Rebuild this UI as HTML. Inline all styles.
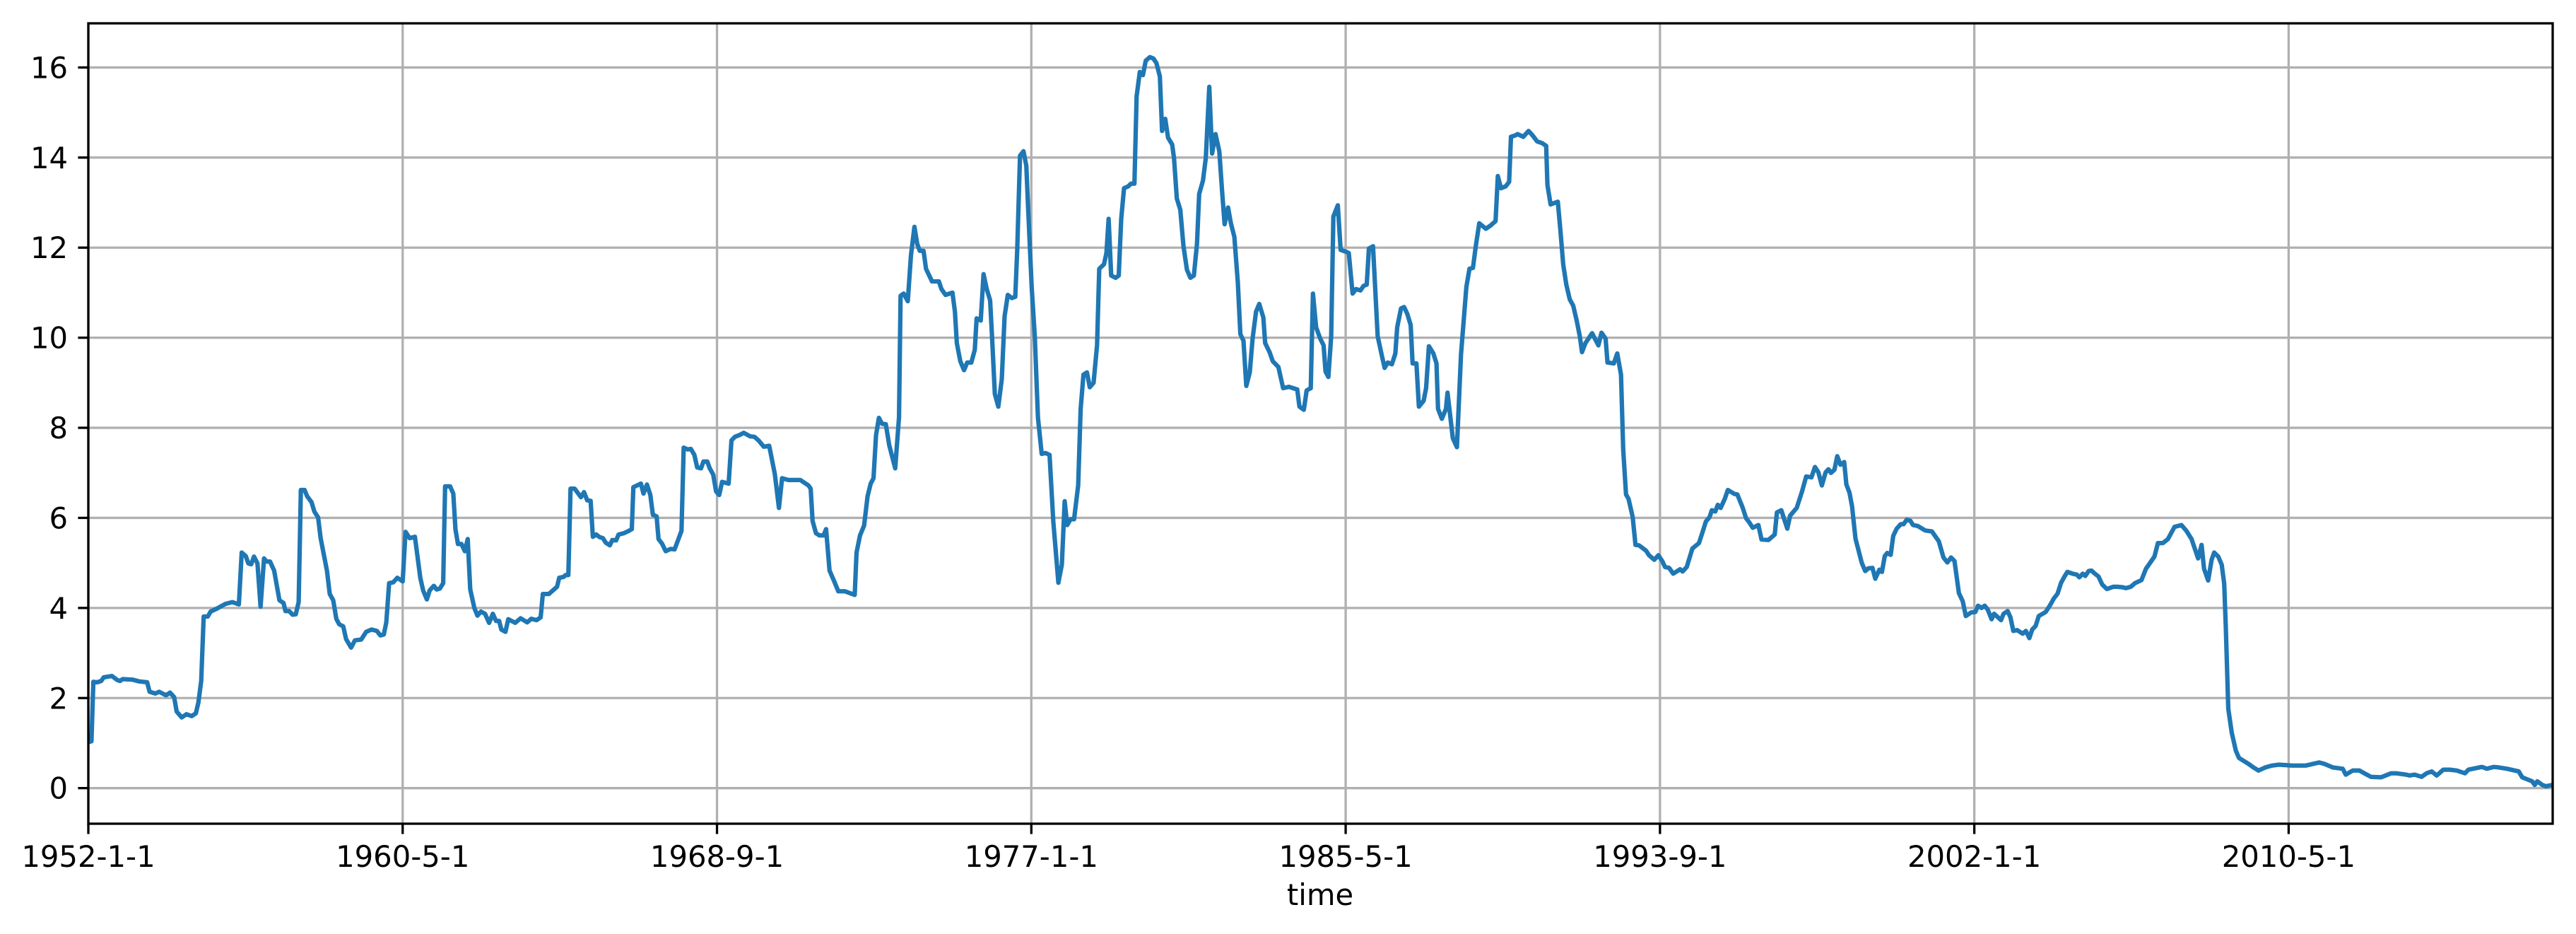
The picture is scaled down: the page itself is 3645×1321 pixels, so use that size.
<!DOCTYPE html>
<html><head><meta charset="utf-8"><style>
html,body{margin:0;padding:0;background:#fff;}
svg{display:block;font-family:"DejaVu Sans","Liberation Sans",sans-serif;}
</style></head><body>
<svg id="chart" width="3645" height="1321" viewBox="0 0 3645 1321" xmlns="http://www.w3.org/2000/svg">
<rect x="0" y="0" width="3645" height="1321" fill="#fff"/>
<g id="grid"></g>
<g id="series"></g>
<g id="axes"></g>
<text x="1868" y="1280" font-size="41.7" text-anchor="middle" fill="#000">time</text>
</svg>
<script>
const months = [0,1,1.6,2.8,4.1,4.9,7.5,9.2,10.1,10.9,14,16.1,18.7,19.5,21.3,22.5,24.7,26,27.3,28.1,29.7,31.2,32.9,34.2,35,35.9,36.7,38,38.9,41,43.6,45.8,47.9,48.8,50.1,50.9,51.8,52.7,53.8,54.8,55.9,56.7,57.8,59.1,60.8,62.1,62.7,63.9,65,66,66.9,67.6,68.8,69.6,71,71.9,73.1,73.9,75.9,76.8,77.9,78.9,79.8,81.1,82,83.6,84.8,86.8,88.4,90.1,91.8,92.9,94,94.8,95.7,97,98.3,100,100.9,102.2,103.9,105.6,106.5,107.7,108.6,109.9,110.8,111.8,112.9,113.5,115.1,116.1,116.8,117.6,118.7,119.8,120.7,121.5,122.8,123.8,124.9,126.2,127.5,128.7,129.7,130.7,131.4,132.7,133.6,135.8,137.5,139.6,140.9,142.6,143.9,144.6,146.5,149.1,149.8,151.2,151.8,152.7,153.4,154.7,156.7,157.7,158.7,159.8,160.5,161.6,162.7,163.7,164.6,165.9,166.7,167.9,168.7,170.4,171.9,172.9,173.4,175.8,176.6,177.7,178.8,179.6,180.8,181.4,182.5,183.7,185.2,186.5,188.7,189.4,190.6,191.7,192.8,193.7,194.9,195.7,196.9,197.7,198.8,199.7,200.7,201.6,203.7,204.6,205.7,207.2,208.5,210.6,211.9,213.2,214.9,216.6,218.4,219.7,220.7,222.7,226.5,229.1,229.8,230.4,231.5,232.6,233.9,234.7,235.8,237.3,238.6,240.7,243.8,244.4,245.5,246.8,247.9,248.9,249.8,250.6,251.5,252.5,253.7,254.8,256.7,257.9,258.4,259.4,260.7,261.7,262.8,263.7,264.5,265.7,266.5,268.4,270.6,271.4,272.7,274.9,275.7,276.3,277.4,278.6,279.6,280.9,282,282.6,283.9,284.8,285.8,286.9,287.5,288.4,289.5,290.6,291.5,292.5,293.8,294.9,295.5,296.4,297.5,298.4,299,300.1,301.1,302.1,303.3,304.5,305.8,307,308.6,309.7,310.6,311.4,312.5,313.6,314.9,315.7,316.6,317.7,318.6,319.8,320.9,321.6,323.1,323.9,324.6,325.4,326.8,327.8,328.6,329.5,330.8,331.7,332.8,333.5,334.5,335.5,336.4,337.7,338.8,339.8,340.9,341.6,342.6,343.5,344.8,345.4,346.3,347.4,348.4,349.5,350.6,351.7,352.7,353.4,354.6,355.5,356.6,357.5,358.6,359.8,360.7,361.5,362.6,363.5,364.6,365.7,366.5,367.5,368.4,369.5,370.4,371.5,372.5,373.8,374.4,375.8,376.8,378.6,380.1,382,384.6,385.3,386.7,387.6,388.9,389.6,390.6,391.9,393,393.6,394.5,395.4,396.1,397.5,398.4,400.1,401,402.2,403.3,404.7,405.7,406.7,407.4,408.7,410.2,411.5,412.4,413.4,414.7,415.8,416.4,417.6,418.6,419.6,420.7,421.3,422.5,423.3,424.8,425.6,426.5,427.9,428.9,429.4,430.6,431.9,432.4,434.1,435.4,436.7,438.4,439.4,440.5,441.4,442.5,444.6,446.1,447.7,448.4,449.4,450.9,452,452.6,453.9,454.7,456.5,458.2,459.5,460.9,462.5,463.8,464.2,465.2,467.5,468.3,469.2,470.2,471.3,472.4,473.5,474.5,475.2,476.3,478.4,480.4,481.4,482.7,483.3,485.3,486.4,487.6,488.3,489.2,490,491.3,492.2,493.3,495.6,496.5,498.2,499.5,500.8,501.6,502.9,504.2,506.4,507.2,508.5,510.3,512.4,513.7,514.6,515.8,516.5,517.6,518.4,519.3,520.6,521.6,523.7,524.6,526.3,527.4,528.4,529.5,531.3,532.3,534.5,536.5,537.2,538.6,540.5,541.4,543.5,545.2,546.5,548.2,549.3,550.4,551.5,552.7,553.6,554.4,555.5,556.4,557.4,558.6,559.3,560.3,561.1,562.2,564.2,565.3,566.3,567.6,568.5,569.8,570.6,571.5,572.3,573.4,574.2,575.3,576.6,577.5,578.5,579.6,580.5,582,584.4,586.5,588.7,590.2,591.4,592.6,593.7,595.1,596.3,597.3,599,600.3,601.2,602.3,603.3,604.3,605.5,606.3,608.5,609.3,610.6,611.5,612.4,613.6,615.4,616.4,617.5,618.4,619.5,620.5,622.7,624,625.3,626.5,627.6,628.7,629.6,631.3,632.6,633.4,634.5,635.3,636.4,637.3,638.2,639.5,640.7,642.2,644.2,645.5,647.2,648.2,649.8,651.1,653.2,654.6,657.3,658.4,660,661.6,663.7,665.9,667.5,669.1,671.2,672.3,673.1,674.4,675.5,676.3,677.6,678.7,679.5,680,680.8,681.9,683.2,684.2,687.2,688.8,690.4,692.6,694.7,696.9,701.1,705.4,709.7,711.3,714,717.2,718.2,720.4,722.5,724.1,726.2,729.4,732.6,734.2,737.4,738.5,740.1,742.3,743.9,745.5,747.1,749.2,751.3,753.5,756.1,757.2,761.5,763.1,765.2,766.8,769.5,773.2,774.3,777.5,778.3,779.1,780.7,781.8,783.9];
const values = [1.02,1.04,2.36,2.35,2.38,2.46,2.49,2.4,2.38,2.42,2.41,2.37,2.35,2.14,2.1,2.14,2.06,2.12,2.02,1.7,1.57,1.64,1.6,1.66,1.9,2.38,3.81,3.81,3.92,3.99,4.09,4.13,4.08,5.23,5.15,4.99,4.97,5.14,4.99,4.03,5.1,5.03,5.03,4.83,4.17,4.11,3.93,3.93,3.85,3.86,4.13,6.62,6.62,6.48,6.35,6.14,6.01,5.55,4.83,4.31,4.17,3.76,3.64,3.59,3.31,3.12,3.28,3.3,3.47,3.52,3.49,3.39,3.41,3.68,4.55,4.57,4.67,4.59,5.69,5.55,5.58,4.67,4.39,4.19,4.39,4.49,4.41,4.43,4.55,6.7,6.7,6.54,5.74,5.42,5.42,5.26,5.53,4.41,4.0,3.83,3.92,3.87,3.67,3.87,3.71,3.71,3.52,3.47,3.75,3.67,3.77,3.68,3.76,3.73,3.79,4.31,4.31,4.47,4.67,4.69,4.73,4.73,6.65,6.65,6.46,6.57,6.39,6.38,5.58,5.63,5.57,5.55,5.45,5.39,5.51,5.5,5.63,5.66,5.71,5.75,6.68,6.76,6.54,6.74,6.51,6.07,6.03,5.53,5.43,5.26,5.31,5.3,5.71,7.56,7.52,7.53,7.4,7.12,7.1,7.25,7.25,7.1,6.96,6.59,6.51,6.8,6.76,7.72,7.8,7.84,7.89,7.81,7.8,7.72,7.58,7.6,6.97,6.22,6.88,6.84,6.84,6.72,6.65,5.93,5.66,5.61,5.61,5.75,4.83,4.59,4.37,4.37,4.29,5.23,5.61,5.83,6.48,6.76,6.88,7.84,8.22,8.09,8.08,7.61,7.1,8.24,10.93,10.98,10.81,11.83,12.46,12.08,11.93,11.93,11.53,11.25,11.25,11.08,10.95,11.0,10.58,9.88,9.48,9.28,9.45,9.45,9.73,10.43,10.38,11.41,11.08,10.83,10.03,8.75,8.47,9.08,10.48,10.95,10.88,10.91,11.93,14.04,14.14,13.82,12.84,11.13,10.03,8.22,7.42,7.44,7.4,5.92,4.56,4.96,6.37,5.84,5.97,5.97,6.72,8.42,9.18,9.23,8.9,9.0,9.83,11.53,11.63,11.88,12.64,11.38,11.33,11.38,12.64,13.32,13.36,13.42,13.42,15.36,15.9,15.83,16.15,16.23,16.2,16.1,15.8,14.59,14.86,14.44,14.29,13.99,13.09,12.84,12.03,11.51,11.33,11.38,12.08,13.19,13.49,13.99,15.57,14.09,14.52,14.14,13.24,12.52,12.89,12.54,12.24,11.23,10.08,9.93,8.93,9.23,9.98,10.58,10.75,10.45,9.88,9.68,9.48,9.35,8.88,8.91,8.85,8.47,8.4,8.83,8.88,10.98,10.23,9.98,9.83,9.25,9.13,10.03,12.69,12.94,11.95,11.91,11.88,10.98,11.08,11.05,11.15,11.18,11.98,12.03,10.03,9.61,9.33,9.45,9.41,9.65,10.23,10.65,10.68,10.53,10.28,9.43,9.43,8.47,8.6,8.88,9.81,9.65,9.43,8.42,8.2,8.42,8.78,7.77,7.57,9.63,11.13,11.53,11.55,12.03,12.54,12.42,12.49,12.59,13.59,13.32,13.36,13.46,14.46,14.49,14.52,14.46,14.59,14.49,14.36,14.32,14.26,13.39,12.96,13.02,12.39,11.63,11.18,10.85,10.71,10.38,10.03,9.68,9.88,10.1,9.83,10.11,9.98,9.45,9.43,9.65,9.18,7.52,6.52,6.42,6.02,5.4,5.39,5.27,5.17,5.07,5.17,5.03,4.91,4.89,4.76,4.86,4.81,4.91,5.32,5.44,5.72,5.92,6.02,6.17,6.14,6.29,6.22,6.42,6.62,6.53,6.52,6.23,5.99,5.9,5.78,5.84,5.52,5.51,5.63,6.12,6.17,5.76,6.05,6.22,6.59,6.92,6.9,7.13,7.01,6.72,7.01,7.08,7.0,7.07,7.37,7.18,7.24,6.74,6.56,6.26,5.54,5.0,4.82,4.88,4.89,4.65,4.85,4.8,5.15,5.22,5.18,5.6,5.76,5.86,5.86,5.96,5.94,5.84,5.82,5.72,5.7,5.48,5.12,5.01,5.12,5.04,4.33,4.15,3.82,3.9,3.91,4.05,4.0,4.05,3.96,3.75,3.87,3.73,3.87,3.93,3.79,3.49,3.51,3.43,3.49,3.33,3.52,3.6,3.82,3.91,4.05,4.21,4.32,4.56,4.7,4.8,4.76,4.74,4.68,4.76,4.71,4.82,4.83,4.77,4.7,4.52,4.42,4.47,4.47,4.46,4.44,4.47,4.55,4.62,4.87,5.14,5.44,5.44,5.53,5.8,5.84,5.71,5.53,5.1,5.4,4.87,4.61,5.07,5.23,5.14,4.96,4.54,3.61,1.76,1.23,0.83,0.67,0.54,0.46,0.39,0.46,0.5,0.52,0.5,0.5,0.57,0.54,0.46,0.43,0.3,0.39,0.39,0.33,0.25,0.24,0.33,0.33,0.3,0.28,0.3,0.25,0.33,0.37,0.28,0.41,0.41,0.39,0.33,0.41,0.47,0.43,0.47,0.46,0.43,0.37,0.24,0.15,0.07,0.15,0.07,0.04,0.07];
const xTickMonths = [0,100,200,300,400,500,600,700];
const xTickLabels = ["1952-1-1","1960-5-1","1968-9-1","1977-1-1","1985-5-1","1993-9-1","2002-1-1","2010-5-1"];
const yTicks = [0,2,4,6,8,10,12,14,16];

const NS = "http://www.w3.org/2000/svg";
const L = 125, R = 3612, T = 33, B = 1165;
const xMin = 0, xMax = 784, yMin = -0.79, yMax = 16.98;
function xs(m){ return L + (m - xMin) / (xMax - xMin) * (R - L); }
function ys(v){ return B - (v - yMin) / (yMax - yMin) * (B - T); }
function mk(tag, attrs, parent){ const e = document.createElementNS(NS, tag); for (const k in attrs) e.setAttribute(k, attrs[k]); parent.appendChild(e); return e; }

const grid = document.getElementById('grid');
const axes = document.getElementById('axes');
const series = document.getElementById('series');

yTicks.forEach(v => {
  const y = ys(v);
  const g = mk('line', {x1:L, x2:R, y1:y, y2:y, stroke:'#b0b0b0', 'stroke-width':3.3}, grid);
  
  
  const t = mk('line', {x1:L-14.6, x2:L, y1:y, y2:y, stroke:'#000', 'stroke-width':3.3}, axes);
  
  
  const lb = mk('text', {x:L-29, y:y+15, 'font-size':41.7, 'text-anchor':'end', fill:'#000'}, axes);
  lb.textContent = String(v);
  
  
});
xTickMonths.forEach((m, i) => {
  const x = xs(m);
  const g = mk('line', {x1:x, x2:x, y1:T, y2:B, stroke:'#b0b0b0', 'stroke-width':3.3}, grid);
  
  
  const t = mk('line', {x1:x, x2:x, y1:B, y2:B+14.6, stroke:'#000', 'stroke-width':3.3}, axes);
  
  
  const lb = mk('text', {x:x, y:B+61, 'font-size':41.7, 'text-anchor':'middle', fill:'#000'}, axes);
  lb.textContent = xTickLabels[i];
  
  
});

let d = '';
months.forEach((m, i) => { d += (i ? 'L' : 'M') + xs(m).toFixed(1) + ',' + ys(values[i]).toFixed(1); });
const clip = mk('clipPath', {id:'plotclip'}, series);
mk('rect', {x:L, y:T, width:R-L, height:B-T}, clip);
const line = mk('path', {d:d, fill:'none', stroke:'#1f77b4', 'stroke-width':6.25, 'stroke-linejoin':'round', 'stroke-linecap':'square', 'clip-path':'url(#plotclip)'}, series);



const frame = mk('rect', {x:L, y:T, width:R-L, height:B-T, fill:'none', stroke:'#000', 'stroke-width':3.3}, axes);


</script>
</body></html>
